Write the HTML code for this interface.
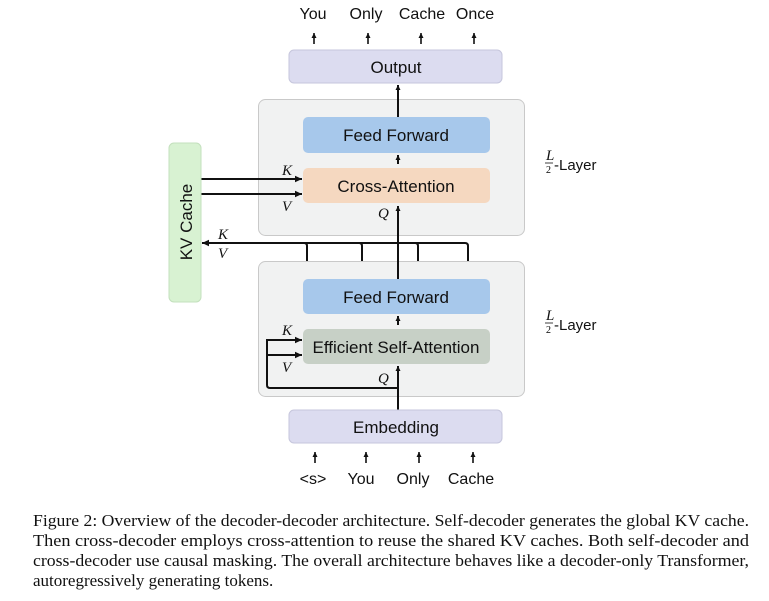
<!DOCTYPE html>
<html><head><meta charset="utf-8"><style>
body{margin:0;background:#fff;}
svg{display:block;}
.s{font-family:"Liberation Sans",sans-serif;fill:#111;}
.i{font-family:"Liberation Serif",serif;font-style:italic;fill:#111;font-size:15px;}
.c{font-family:"Liberation Serif",serif;fill:#111;font-size:17px;}
</style></head><body>
<svg width="769" height="601" viewBox="0 0 769 601" xmlns="http://www.w3.org/2000/svg">
<defs>
<marker id="a" markerWidth="8" markerHeight="8" refX="7" refY="4" orient="auto" markerUnits="userSpaceOnUse">
<path d="M0,0.8 L7,4 L0,7.2 Z" fill="#111"/></marker>
<marker id="b" markerWidth="6" markerHeight="6" refX="5" refY="3" orient="auto" markerUnits="userSpaceOnUse">
<path d="M0,0.5 L5,3 L0,5.5 Z" fill="#111"/></marker>
</defs>
<g class="s" font-size="16" text-anchor="middle">
<text x="313" y="19">You</text><text x="366" y="19">Only</text><text x="422" y="19">Cache</text><text x="475" y="19">Once</text>
<text x="313" y="484">&lt;s&gt;</text><text x="361" y="484">You</text><text x="413" y="484">Only</text><text x="471" y="484">Cache</text>
</g>
<g stroke="#111" stroke-width="1.6">
<line x1="314" y1="44" x2="314" y2="33" marker-end="url(#b)"/>
<line x1="368" y1="44" x2="368" y2="33" marker-end="url(#b)"/>
<line x1="421" y1="44" x2="421" y2="33" marker-end="url(#b)"/>
<line x1="474" y1="44" x2="474" y2="33" marker-end="url(#b)"/>
<line x1="315" y1="463" x2="315" y2="452" marker-end="url(#b)"/>
<line x1="366" y1="463" x2="366" y2="452" marker-end="url(#b)"/>
<line x1="419" y1="463" x2="419" y2="452" marker-end="url(#b)"/>
<line x1="473" y1="463" x2="473" y2="452" marker-end="url(#b)"/>
</g>
<rect x="258.5" y="99.5" width="266" height="136" rx="7" fill="#f1f2f2" stroke="#c9c9c9"/>
<rect x="258.5" y="261.5" width="266" height="135" rx="7" fill="#f1f2f2" stroke="#c9c9c9"/>
<!-- lines (behind boxes) -->
<g stroke="#111" stroke-width="2" fill="none">
<line x1="398" y1="410" x2="398" y2="366" marker-end="url(#b)"/>
<line x1="398" y1="325" x2="398" y2="316" marker-end="url(#b)"/>
<line x1="398" y1="279" x2="398" y2="206" marker-end="url(#b)"/>
<line x1="398" y1="164" x2="398" y2="155" marker-end="url(#b)"/>
<line x1="398" y1="117" x2="398" y2="85" marker-end="url(#b)"/>
<line x1="201" y1="179" x2="302" y2="179" marker-end="url(#a)"/>
<line x1="201" y1="194" x2="302" y2="194" marker-end="url(#a)"/>
<path d="M468,261 V246 Q468,243 465,243 H202" marker-end="url(#a)"/>
<path d="M307,261 V246 Q307,243 304,243"/>
<path d="M362,261 V246 Q362,243 359,243"/>
<path d="M418,261 V246 Q418,243 415,243"/>
<path d="M398,388 H270 Q267,388 267,385 V340 H302" marker-end="url(#a)"/>
<line x1="267" y1="355" x2="302" y2="355" marker-end="url(#a)"/>
</g>
<rect x="289" y="50" width="213" height="33" rx="5" fill="#dcdcf0" stroke="#c6c6dc"/>
<text class="s" x="396" y="73" font-size="17" text-anchor="middle">Output</text>
<rect x="289" y="410" width="213" height="33" rx="5" fill="#dcdcf0" stroke="#c6c6dc"/>
<text class="s" x="396" y="433" font-size="17" text-anchor="middle">Embedding</text>
<rect x="303" y="117" width="187" height="36" rx="5" fill="#a7c8eb"/>
<text class="s" x="396" y="141" font-size="17" text-anchor="middle">Feed Forward</text>
<rect x="303" y="168" width="187" height="35" rx="5" fill="#f5d8c0"/>
<text class="s" x="396" y="192" font-size="17" text-anchor="middle">Cross-Attention</text>
<rect x="303" y="279" width="187" height="35" rx="5" fill="#a7c8eb"/>
<text class="s" x="396" y="303" font-size="17" text-anchor="middle">Feed Forward</text>
<rect x="303" y="329" width="187" height="35" rx="5" fill="#c7d0c6"/>
<text class="s" x="396" y="353" font-size="17" text-anchor="middle">Efficient Self-Attention</text>
<rect x="169" y="143" width="32" height="159" rx="5" fill="#d8f2d2" stroke="#c3e0bd"/>
<text class="s" x="192" y="222" font-size="17" text-anchor="middle" transform="rotate(-90 192 222)">KV Cache</text>
<g class="i">
<text x="282" y="175">K</text><text x="282" y="211">V</text><text x="378" y="218">Q</text>
<text x="218" y="239">K</text><text x="218" y="258">V</text>
<text x="282" y="335">K</text><text x="282" y="372">V</text><text x="378" y="383">Q</text>
</g>
<g>
<text class="i" x="546" y="160" font-size="11">L</text>
<line x1="545" y1="163" x2="553" y2="163" stroke="#111" stroke-width="0.8"/>
<text x="546" y="173" font-size="10" font-family="Liberation Serif,serif">2</text>
<text class="s" x="554" y="170" font-size="15">-Layer</text>
<text class="i" x="546" y="320" font-size="11">L</text>
<line x1="545" y1="323" x2="553" y2="323" stroke="#111" stroke-width="0.8"/>
<text x="546" y="333" font-size="10" font-family="Liberation Serif,serif">2</text>
<text class="s" x="554" y="330" font-size="15">-Layer</text>
</g>
<text class="c" x="33" y="526" textLength="716" lengthAdjust="spacingAndGlyphs">Figure 2: Overview of the decoder-decoder architecture. Self-decoder generates the global KV cache.</text>
<text class="c" x="33" y="546" textLength="716" lengthAdjust="spacingAndGlyphs">Then cross-decoder employs cross-attention to reuse the shared KV caches. Both self-decoder and</text>
<text class="c" x="33" y="566" textLength="716" lengthAdjust="spacingAndGlyphs">cross-decoder use causal masking. The overall architecture behaves like a decoder-only Transformer,</text>
<text class="c" x="33" y="586">autoregressively generating tokens.</text>
</svg>
</body></html>
